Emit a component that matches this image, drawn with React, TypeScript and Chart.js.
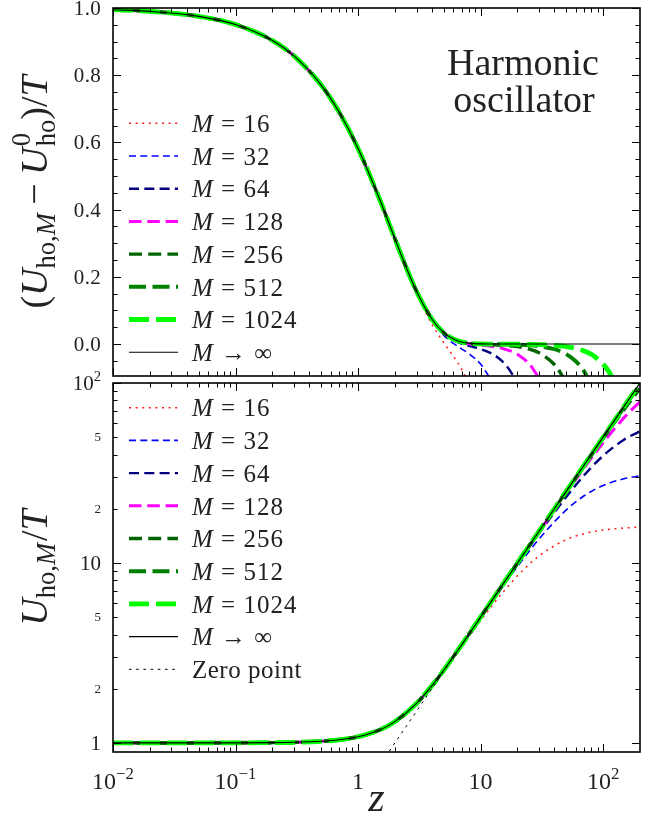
import { useEffect, useRef } from "react";
import { Chart, registerables } from "chart.js";

Chart.register(...registerables);

const SERIF = '"Liberation Serif", "DejaVu Serif", serif';
const INK = "#222222";

// Shared reduced inverse temperature z (log axis)
const Z_MIN = 0.01;
const Z_MAX = 200;
const Z_MAJOR = [0.01, 0.1, 1, 10, 100];
const Z_LABEL_BASE = ["10", "10", "1", "10", "10"];
const Z_LABEL_EXP = ["\u22122", "\u22121", "", "", "2"];

// Upper panel: (U_ho,M - U0_ho)/T
const TOP_MIN = -0.095;
const TOP_MAX = 1.0;
const TOP_MAJOR = [0, 0.2, 0.4, 0.6, 0.8, 1.0];
const TOP_LABELS = ["0.0", "0.2", "0.4", "0.6", "0.8", "1.0"];

const Z_TOP = [0.01, 0.02, 0.05, 0.1, 0.2, 0.3, 0.5, 0.7, 1, 1.5, 2, 2.5, 3, 4, 5, 6, 7, 8, 10, 12, 15, 18, 20, 25, 30, 40, 45, 50, 60, 70, 80, 100, 110, 120, 150, 200];

const TOP_M16 = [0.9950, 0.9900, 0.9752, 0.9508, 0.9033, 0.8574, 0.7706, 0.6903, 0.5816, 0.4298, 0.3109, 0.2197, 0.1507, 0.0594, 0.0042, -0.0362, -0.0743, -0.1166, null, null, null, null, null, null, null, null, null, null, null, null, null, null, null, null, null, null];
const TOP_M32 = [0.9950, 0.9900, 0.9752, 0.9508, 0.9033, 0.8575, 0.7707, 0.6905, 0.5819, 0.4306, 0.3125, 0.2226, 0.1556, 0.0708, 0.0264, 0.0019, -0.0143, -0.0282, -0.0595, -0.1027, null, null, null, null, null, null, null, null, null, null, null, null, null, null, null, null];
const TOP_M64 = [0.9950, 0.9900, 0.9752, 0.9508, 0.9033, 0.8575, 0.7707, 0.6905, 0.5820, 0.4307, 0.3129, 0.2233, 0.1568, 0.0737, 0.0320, 0.0116, 0.0012, -0.0051, -0.0147, -0.0261, -0.0510, -0.0877, -0.1199, null, null, null, null, null, null, null, null, null, null, null, null, null];
const TOP_M128 = [0.9950, 0.9900, 0.9752, 0.9508, 0.9033, 0.8575, 0.7707, 0.6905, 0.5820, 0.4308, 0.3130, 0.2235, 0.1571, 0.0744, 0.0334, 0.0141, 0.0051, 0.0007, -0.0034, -0.0065, -0.0128, -0.0222, -0.0304, -0.0592, -0.1019, null, null, null, null, null, null, null, null, null, null, null];
const TOP_M256 = [0.9950, 0.9900, 0.9752, 0.9508, 0.9033, 0.8575, 0.7707, 0.6905, 0.5820, 0.4308, 0.3130, 0.2236, 0.1572, 0.0746, 0.0338, 0.0147, 0.0061, 0.0022, -0.0005, -0.0016, -0.0032, -0.0056, -0.0076, -0.0149, -0.0257, -0.0608, -0.0864, -0.1184, null, null, null, null, null, null, null, null];
const TOP_M512 = [0.9950, 0.9900, 0.9752, 0.9508, 0.9033, 0.8575, 0.7707, 0.6905, 0.5820, 0.4308, 0.3130, 0.2236, 0.1572, 0.0746, 0.0339, 0.0149, 0.0063, 0.0026, 0.0002, -0.0003, -0.0008, -0.0014, -0.0019, -0.0037, -0.0064, -0.0152, -0.0217, -0.0298, -0.0514, -0.0815, -0.1215, null, null, null, null, null];
const TOP_M1024 = [0.9950, 0.9900, 0.9752, 0.9508, 0.9033, 0.8575, 0.7707, 0.6905, 0.5820, 0.4308, 0.3130, 0.2236, 0.1572, 0.0746, 0.0339, 0.0149, 0.0064, 0.0027, 0.0004, 0.0000, -0.0002, -0.0003, -0.0005, -0.0009, -0.0016, -0.0038, -0.0054, -0.0074, -0.0129, -0.0204, -0.0305, -0.0595, -0.0792, -0.1027, null, null];
const TOP_INF = [0.9950, 0.9900, 0.9752, 0.9508, 0.9033, 0.8575, 0.7707, 0.6905, 0.5820, 0.4308, 0.3130, 0.2236, 0.1572, 0.0746, 0.0339, 0.0149, 0.0064, 0.0027, 0.0005, 0.0001, 0, 0, 0, 0, 0, 0, 0, 0, 0, 0, 0, 0, 0, 0, 0, 0];

// Lower panel: U_ho,M/T (log axis)
const BOT_MIN = 0.89;
const BOT_MAX = 100;
const BOT_TICKS = [1, 2, 5, 10, 20, 50, 100];
const BOT_LABEL_BASE = ["1", "2", "5", "10", "2", "5", "10"];
const BOT_LABEL_EXP = ["", "", "", "", "", "", "2"];
const BOT_LABEL_MAJOR = [true, false, false, true, false, false, true];

const Z_BOT = [0.01, 0.03, 0.1, 0.2, 0.3, 0.5, 0.7, 1, 1.5, 2, 3, 4, 5, 7, 10, 15, 20, 30, 50, 70, 100, 150, 200];

const BOT_M16 = [1.0000, 1.0001, 1.0008, 1.0033, 1.0075, 1.0208, 1.0404, 1.0816, 1.1798, 1.3109, 1.6507, 2.0594, 2.5042, 3.4257, 4.7729, 6.7909, 8.4800, 10.943, 13.476, 14.552, 15.239, 15.648, 15.799];
const BOT_M32 = [1.0000, 1.0001, 1.0008, 1.0033, 1.0075, 1.0208, 1.0405, 1.0819, 1.1806, 1.3125, 1.6556, 2.0708, 2.5264, 3.4857, 4.9405, 7.3022, 9.5448, 13.582, 19.700, 23.617, 26.953, 29.433, 30.478];
const BOT_M64 = [1.0000, 1.0001, 1.0008, 1.0033, 1.0075, 1.0208, 1.0405, 1.0820, 1.1808, 1.3129, 1.6568, 2.0737, 2.5320, 3.5012, 4.9853, 7.4490, 9.8801, 14.604, 23.286, 30.708, 39.402, 48.684, 53.905];
const BOT_M128 = [1.0000, 1.0001, 1.0008, 1.0033, 1.0075, 1.0208, 1.0405, 1.0820, 1.1808, 1.3130, 1.6571, 2.0744, 2.5334, 3.5051, 4.9966, 7.4872, 9.9696, 14.898, 24.536, 33.761, 46.573, 64.710, 78.802];
const BOT_M256 = [1.0000, 1.0001, 1.0008, 1.0033, 1.0075, 1.0208, 1.0405, 1.0820, 1.1808, 1.3130, 1.6572, 2.0746, 2.5338, 3.5061, 4.9995, 7.4968, 9.9924, 14.974, 24.882, 34.677, 49.073, 71.975, 93.146];
const BOT_M512 = [1.0000, 1.0001, 1.0008, 1.0033, 1.0075, 1.0208, 1.0405, 1.0820, 1.1808, 1.3130, 1.6572, 2.0746, 2.5339, 3.5063, 5.0002, 7.4992, 9.9981, 14.994, 24.970, 34.919, 49.763, 74.208, 98.144];
const BOT_M1024 = [1.0000, 1.0001, 1.0008, 1.0033, 1.0075, 1.0208, 1.0405, 1.0820, 1.1808, 1.3130, 1.6572, 2.0746, 2.5339, 3.5064, 5.0004, 7.4998, 9.9995, 14.998, 24.993, 34.980, 49.941, 74.799, 99.527];
const BOT_INF = [1.0000, 1.0001, 1.0008, 1.0033, 1.0075, 1.0208, 1.0405, 1.0820, 1.1808, 1.3130, 1.6572, 2.0746, 2.5339, 3.5064, 5.0005, 7.5000, 10.000, 15.000, 25.000, 35.000, 50.000, 75.000, 100.00];

const Z_ZERO = [1.8, 200];
const BOT_ZERO = [0.9, 100];

const BEADS = ["16", "32", "64", "128", "256", "512", "1024"];
const LIMIT_LABEL = "M \u2192 \u221e";
const ZERO_LABEL = "Zero point";

// line styles: M = 16 ... 1024, then M -> infinity
const STYLES = [
  { color: "#ff1a1a", width: 1.5, dash: [2, 4.6] },
  { color: "#0000ff", width: 1.6, dash: [7, 4.3] },
  { color: "#000080", width: 2.4, dash: [10, 5.3] },
  { color: "#ff00ff", width: 3.0, dash: [12.5, 5.8] },
  { color: "#006400", width: 3.4, dash: [13, 6.2] },
  { color: "#008000", width: 4.0, dash: [17, 6.5] },
  { color: "#00ff00", width: 4.8, dash: [20, 7] },
  { color: "#000000", width: 1.1, dash: [] as number[] },
];
const ZERO_STYLE = { color: "#000000", width: 1.0, dash: [2.6, 4.6] };

const TITLE_SIZE = 38;
const Y_TICK_SIZE = 21;
const Y_MINOR_LABEL_SIZE = 13;
const X_TICK_SIZE = 24;
const LEGEND_SIZE = 25;

type Piece = { t: string; it?: boolean; k?: number; dy?: number; hold?: boolean; pad?: number; ls?: number };

function fontOf(size: number, italic?: boolean) {
  return `${italic ? "italic " : ""}${size}px ${SERIF}`;
}

function setPieceFont(ctx: CanvasRenderingContext2D, p: Piece, size: number) {
  ctx.font = fontOf(size * (p.k ?? 1), p.it);
  (ctx as any).letterSpacing = `${p.ls ?? 0}px`;
}

function measurePieces(ctx: CanvasRenderingContext2D, pieces: Piece[], size: number) {
  let w = 0;
  for (const p of pieces) {
    setPieceFont(ctx, p, size);
    const pw = ctx.measureText(p.t).width;
    if (!p.hold) w += pw + (p.pad ?? 0) * size;
  }
  (ctx as any).letterSpacing = "0px";
  return w;
}

function drawPieces(ctx: CanvasRenderingContext2D, pieces: Piece[], x: number, y: number, size: number) {
  let cx = x;
  for (const p of pieces) {
    setPieceFont(ctx, p, size);
    ctx.fillText(p.t, cx, y - (p.dy ?? 0) * size);
    if (!p.hold) cx += ctx.measureText(p.t).width + (p.pad ?? 0) * size;
  }
  (ctx as any).letterSpacing = "0px";
}

function numberPieces(base: string, exp: string): Piece[] {
  const out: Piece[] = [{ t: base }];
  if (exp) out.push({ t: exp, k: 0.7, dy: 0.42 });
  return out;
}

function legendPieces(label: string): Piece[] {
  if (label.startsWith("M ")) {
    const [, op, rest] = label.split(" ");
    return [
      { t: "M", it: true, pad: 0.33 },
      { t: op, pad: 0.33 },
      { t: rest, ls: 1 },
    ];
  }
  return [{ t: label, ls: 0.5 }];
}

const TOP_TITLE: Piece[] = [
  { t: "(" },
  { t: "U", it: true, pad: 0.0 },
  { t: "ho,", k: 0.7, dy: -0.2 },
  { t: "M", it: true, k: 0.7, dy: -0.2, pad: 0.22 },
  { t: "\u2212", pad: 0.22 },
  { t: "U", it: true, pad: 0.03 },
  { t: "0", k: 0.7, dy: 0.45, hold: true },
  { t: "ho", k: 0.7, dy: -0.2 },
  { t: ")" },
  { t: "/" },
  { t: "T", it: true },
];

const BOT_TITLE: Piece[] = [
  { t: "U", it: true, pad: 0.0 },
  { t: "ho,", k: 0.7, dy: -0.2 },
  { t: "M", it: true, k: 0.7, dy: -0.2, pad: 0.05 },
  { t: "/" },
  { t: "T", it: true },
];

function logMinors(min: number, max: number) {
  const out: number[] = [];
  for (let k = Math.floor(Math.log10(min)); k <= Math.ceil(Math.log10(max)); k++) {
    for (let m = 2; m <= 9; m++) {
      const v = m * Math.pow(10, k);
      if (v > min * 1.02 && v < max * 0.999) out.push(v);
    }
  }
  return out;
}

function buildSeries(zs: number[], ys: (number | null)[]) {
  const pts: { x: number; y: number }[] = [];
  zs.forEach((z, i) => {
    const v = ys[i];
    if (v !== null && v !== undefined) pts.push({ x: z, y: v });
  });
  return pts;
}

function makeDataset(label: string, zs: number[], ys: (number | null)[], st: { color: string; width: number; dash: number[] }, order: number) {
  return {
    label,
    data: buildSeries(zs, ys),
    borderColor: st.color,
    borderWidth: st.width,
    borderDash: st.dash,
    borderCapStyle: "butt" as const,
    pointRadius: 0,
    fill: false,
    cubicInterpolationMode: "monotone" as const,
    clip: 0,
    order,
  };
}

type Panel = "top" | "bottom";

function decorPlugin(panel: Panel) {
  return {
    id: "decor-" + panel,
    afterDatasetsDraw(chart: any) {
      const ctx: CanvasRenderingContext2D = chart.ctx;
      const a = chart.chartArea;
      const xs = chart.scales.x;
      const ys = chart.scales.y;
      ctx.save();
      ctx.textBaseline = "alphabetic";
      ctx.textAlign = "left";

      // legend inside the plot
      const rowY0 = panel === "top" ? 123.3 : 47.7;
      const rowStep = 32.7;
      chart.data.datasets.forEach((ds: any, i: number) => {
        const y = rowY0 + i * rowStep;
        ctx.save();
        ctx.strokeStyle = ds.borderColor;
        ctx.lineWidth = ds.borderWidth;
        ctx.setLineDash(ds.borderDash || []);
        ctx.lineCap = "butt";
        ctx.beginPath();
        ctx.moveTo(a.left + 16, y);
        ctx.lineTo(a.left + 65, y);
        ctx.stroke();
        ctx.restore();
        ctx.fillStyle = INK;
        drawPieces(ctx, legendPieces(ds.label), a.left + 79, y + 8.7, LEGEND_SIZE);
      });

      // inward ticks on all four sides
      const yMajor = panel === "top" ? TOP_MAJOR : [1, 10, 100];
      const yMinor: number[] = [];
      if (panel === "top") {
        for (let i = -1; i <= 19; i++) if (i % 4 !== 0) yMinor.push(i * 0.05);
      } else {
        yMinor.push(...logMinors(BOT_MIN, BOT_MAX));
      }
      const xMinor = logMinors(Z_MIN, Z_MAX);
      ctx.strokeStyle = "#000";
      ctx.lineWidth = 1;
      ctx.beginPath();
      const xTick = (v: number, len: number) => {
        const p = Math.round(xs.getPixelForValue(v)) + 0.5;
        ctx.moveTo(p, a.bottom);
        ctx.lineTo(p, a.bottom - len);
        ctx.moveTo(p, a.top);
        ctx.lineTo(p, a.top + len);
      };
      const yTick = (v: number, len: number) => {
        const p = Math.round(ys.getPixelForValue(v)) + 0.5;
        ctx.moveTo(a.left, p);
        ctx.lineTo(a.left + len, p);
        ctx.moveTo(a.right, p);
        ctx.lineTo(a.right - len, p);
      };
      Z_MAJOR.forEach((v) => xTick(v, 8));
      xMinor.forEach((v) => xTick(v, 4.5));
      yMajor.forEach((v) => yTick(v, 8));
      yMinor.forEach((v) => yTick(v, 4.5));
      ctx.stroke();
      ctx.lineWidth = 1.6;
      ctx.strokeRect(a.left, a.top, a.right - a.left, a.bottom - a.top);

      // tick labels
      ctx.fillStyle = INK;
      const labelRight = a.left - 12;
      if (panel === "top") {
        TOP_MAJOR.forEach((v, i) => {
          const p = ys.getPixelForValue(v);
          const pc = [{ t: TOP_LABELS[i], ls: 0.3 }];
          const w = measurePieces(ctx, pc, Y_TICK_SIZE);
          drawPieces(ctx, pc, labelRight - w, p + 0.33 * Y_TICK_SIZE, Y_TICK_SIZE);
        });
      } else {
        BOT_TICKS.forEach((v, i) => {
          const p = ys.getPixelForValue(v);
          const size = BOT_LABEL_MAJOR[i] ? Y_TICK_SIZE : Y_MINOR_LABEL_SIZE;
          const pc = numberPieces(BOT_LABEL_BASE[i], BOT_LABEL_EXP[i]);
          const w = measurePieces(ctx, pc, size);
          drawPieces(ctx, pc, labelRight - w, p + 0.33 * size, size);
        });
        Z_MAJOR.forEach((v, i) => {
          const p = xs.getPixelForValue(v);
          const pc = numberPieces(Z_LABEL_BASE[i], Z_LABEL_EXP[i]);
          const w = measurePieces(ctx, pc, X_TICK_SIZE);
          drawPieces(ctx, pc, p - w / 2, a.bottom + 37, X_TICK_SIZE);
        });
        // x-axis title
        const zp: Piece[] = [{ t: "z", it: true }];
        const zw = measurePieces(ctx, zp, 42);
        drawPieces(ctx, zp, (a.left + a.right) / 2 - zw / 2, a.bottom + 59, 42);
      }

      // rotated y-axis title
      const title = panel === "top" ? TOP_TITLE : BOT_TITLE;
      ctx.save();
      ctx.translate(47, (a.top + a.bottom) / 2);
      ctx.rotate(-Math.PI / 2);
      const tw = measurePieces(ctx, title, TITLE_SIZE);
      drawPieces(ctx, title, -tw / 2, 0, TITLE_SIZE);
      ctx.restore();

      if (panel === "top") {
        ctx.textAlign = "center";
        ctx.font = fontOf(38);
        ctx.fillText("Harmonic", 523, 75);
        ctx.fillText("oscillator", 524, 112);
      }
      ctx.restore();
    },
  };
}

function baseOptions(yType: "linear" | "logarithmic", yMin: number, yMax: number, padding: any, xHeight: number) {
  return {
    responsive: false,
    animation: false as const,
    events: [] as any[],
    layout: { padding },
    plugins: { legend: { display: false }, tooltip: { enabled: false } },
    scales: {
      x: {
        type: "logarithmic" as const,
        min: Z_MIN,
        max: Z_MAX,
        grid: { display: false },
        border: { display: false },
        ticks: { display: false },
        afterBuildTicks: (s: any) => {
          s.ticks = Z_MAJOR.map((value) => ({ value }));
        },
        afterFit: (s: any) => {
          s.height = xHeight;
        },
      },
      y: {
        type: yType,
        min: yMin,
        max: yMax,
        grid: { display: false },
        border: { display: false },
        ticks: { display: false },
        afterBuildTicks: (s: any) => {
          const vals = yType === "linear" ? TOP_MAJOR : BOT_TICKS;
          s.ticks = vals.map((value) => ({ value }));
        },
        afterFit: (s: any) => {
          s.width = 113;
        },
      },
    },
  };
}

export default function App() {
  const topRef = useRef<HTMLCanvasElement>(null);
  const botRef = useRef<HTMLCanvasElement>(null);

  useEffect(() => {
    const topSeries = [TOP_M16, TOP_M32, TOP_M64, TOP_M128, TOP_M256, TOP_M512, TOP_M1024];
    const botSeries = [BOT_M16, BOT_M32, BOT_M64, BOT_M128, BOT_M256, BOT_M512, BOT_M1024];

    const topSets = topSeries.map((ys, i) => makeDataset(`M = ${BEADS[i]}`, Z_TOP, ys, STYLES[i], -i));
    topSets.push(makeDataset(LIMIT_LABEL, Z_TOP, TOP_INF, STYLES[7], -7));

    const botSets = botSeries.map((ys, i) => makeDataset(`M = ${BEADS[i]}`, Z_BOT, ys, STYLES[i], -i));
    botSets.push(makeDataset(LIMIT_LABEL, Z_BOT, BOT_INF, STYLES[7], -7));
    botSets.push(makeDataset(ZERO_LABEL, Z_ZERO, BOT_ZERO, ZERO_STYLE, -8));

    const top = new Chart(topRef.current as HTMLCanvasElement, {
      type: "line",
      data: { datasets: topSets as any },
      options: baseOptions("linear", TOP_MIN, TOP_MAX, { left: 0, right: 25, top: 8, bottom: 4 }, 0) as any,
      plugins: [decorPlugin("top")],
    });
    const bot = new Chart(botRef.current as HTMLCanvasElement, {
      type: "line",
      data: { datasets: botSets as any },
      options: baseOptions("logarithmic", BOT_MIN, BOT_MAX, { left: 0, right: 25, top: 23, bottom: 0 }, 66) as any,
      plugins: [decorPlugin("bottom")],
    });
    return () => {
      top.destroy();
      bot.destroy();
    };
  }, []);

  return (
    <div style={{ position: "absolute", left: 0, top: 0, width: 665, height: 818, background: "#fff" }}>
      <canvas ref={botRef} width={665} height={458} style={{ position: "absolute", left: 0, top: 360, width: 665, height: 458 }} />
      <canvas ref={topRef} width={665} height={380} style={{ position: "absolute", left: 0, top: 0, width: 665, height: 380 }} />
    </div>
  );
}
